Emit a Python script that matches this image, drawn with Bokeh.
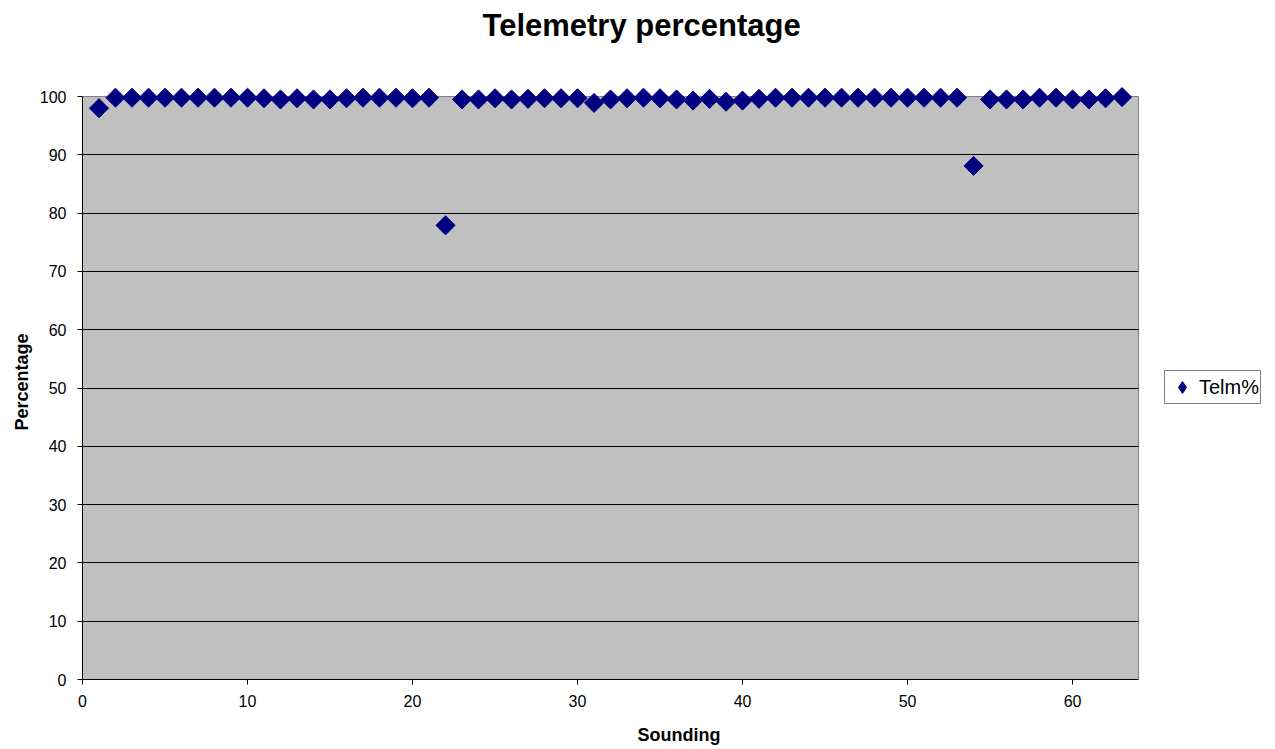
import math
from bokeh.plotting import figure
from bokeh.models import Range1d, FixedTicker, Legend, LegendItem, Title
from bokeh.embed import file_html
from bokeh.resources import INLINE

# ---- data ----
sounding = list(range(1, 64))
telm_pct = [
    98.0, 99.8, 99.8, 99.8, 99.8, 99.8, 99.8, 99.8, 99.8, 99.8,
    99.7, 99.5, 99.7, 99.5, 99.5, 99.7, 99.8, 99.8, 99.8, 99.7,
    99.8, 77.9, 99.5, 99.5, 99.7, 99.5, 99.6, 99.7, 99.7, 99.7,
    98.9, 99.5, 99.7, 99.8, 99.7, 99.5, 99.3, 99.6, 99.1, 99.3,
    99.6, 99.8, 99.8, 99.8, 99.8, 99.8, 99.8, 99.8, 99.8, 99.8,
    99.8, 99.8, 99.8, 88.1, 99.5, 99.5, 99.5, 99.8, 99.8, 99.5,
    99.5, 99.7, 99.9,
]
x_ticks = [0, 10, 20, 30, 40, 50, 60]
y_ticks = [0, 10, 20, 30, 40, 50, 60, 70, 80, 90, 100]
x_min, x_max = 0, 64
y_min, y_max = 0, 100

FONT = "Liberation Sans"

# frame extends to the right edge so the legend can sit beside the plot area
p = figure(width=1275, height=749, output_backend="svg", toolbar_location=None,
           x_range=Range1d(x_min, 72.30), y_range=Range1d(y_min, 102.06),
           min_border_left=82, min_border_right=0, min_border_top=84,
           min_border_bottom=70, background_fill_color="white",
           border_fill_color="white", outline_line_color=None)

spacer = Title(text=" ", text_font=FONT, text_font_size="10px", standoff=27)
p.add_layout(spacer, "above")
title = Title(text="Telemetry percentage", text_font=FONT, text_font_size="31px",
              text_font_style="bold", text_color="black", align="left",
              offset=400, standoff=3)
p.add_layout(title, "above")

# plot area background (0..100)
p.quad(left=[x_min], right=[x_max], bottom=[y_min], top=[y_max],
       fill_color="#C0C0C0", line_color="#808080", line_width=1, level="image")

# grid
p.xgrid.visible = False
p.ygrid.ticker = FixedTicker(ticks=y_ticks[1:-1])
p.ygrid.cross_bounds = (x_min, x_max)
p.ygrid.grid_line_color = "black"
p.ygrid.grid_line_width = 1

# axes
for ax in (p.xaxis[0], p.yaxis[0]):
    ax.axis_line_color = "black"
    ax.axis_line_width = 1
    ax.major_tick_line_color = "black"
    ax.major_tick_out = 5
    ax.major_tick_in = 0
    ax.minor_tick_line_color = None
    ax.major_label_text_font = FONT
    ax.major_label_text_font_size = "16px"
    ax.major_label_text_color = "black"
    ax.axis_label_text_font = FONT
    ax.axis_label_text_font_size = "18px"
    ax.axis_label_text_font_style = "bold"
    ax.axis_label_text_color = "black"

p.xaxis.ticker = FixedTicker(ticks=x_ticks)
p.yaxis.ticker = FixedTicker(ticks=y_ticks)
p.yaxis.bounds = (y_min, y_max)
p.xaxis.bounds = (x_min, x_max)
p.xaxis.axis_label = "Sounding"
p.yaxis.axis_label = "Percentage"
p.xaxis.major_label_standoff = 10
p.yaxis.major_label_standoff = 11
p.xaxis.axis_label_standoff = 15
p.yaxis.axis_label_standoff = 5

# diamond renderer (hidden under the markers) supplies the legend symbol
r_leg = p.scatter(sounding, telm_pct, marker="diamond", size=12,
                  fill_color="#000080", line_color="#000080")
r = p.scatter(sounding, telm_pct, marker="square", angle=math.pi / 4, size=13.5,
              fill_color="#000080", line_color="#000080")

legend = Legend(items=[LegendItem(label="Telm%", renderers=[r_leg])],
                location=(1082, 275), margin=0, padding=1, spacing=0,
                glyph_width=32, glyph_height=30, label_standoff=1,
                label_text_font=FONT, label_text_font_size="20px",
                label_text_color="black", label_height=20,
                border_line_color="black", border_line_width=1,
                background_fill_color="white", background_fill_alpha=1)
p.add_layout(legend, "center")

open("out.html", "w").write(file_html(p, INLINE))
